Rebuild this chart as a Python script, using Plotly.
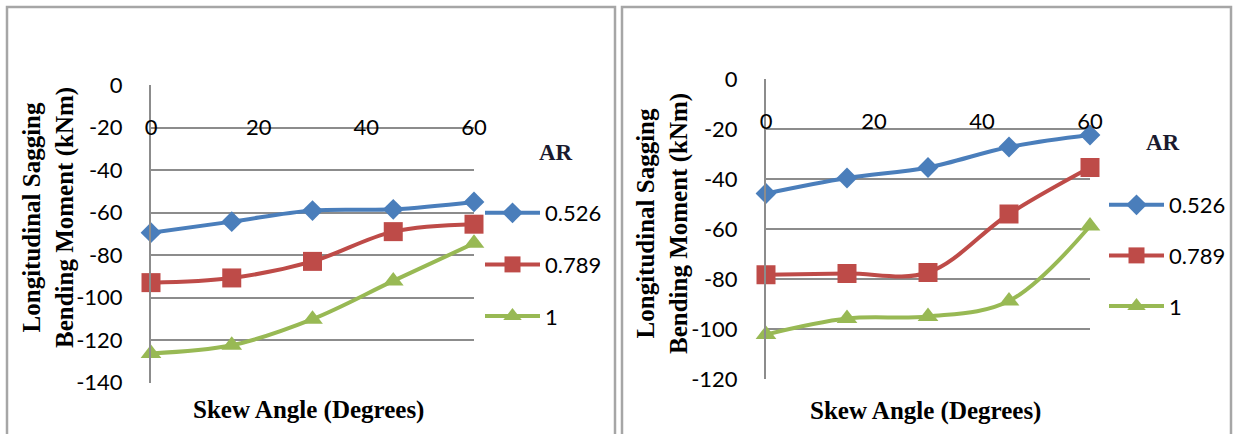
import plotly.graph_objects as go

skew = [0, 15, 30, 45, 60]
ar_labels = ["0.526", "0.789", "1"]

left_526 = [-69.5, -64.3, -59.1, -58.5, -55.0]
left_789 = [-93.0, -90.8, -83.0, -69.0, -65.5]
left_1 = [-126.3, -122.5, -110.2, -92.2, -74.5]

right_526 = [-45.8, -39.6, -35.4, -27.2, -22.4]
right_789 = [-78.3, -77.8, -77.4, -54.0, -35.4]
right_1 = [-102.2, -95.8, -95.0, -88.8, -58.8]

x_ticks = [0, 20, 40, 60]
left_yticks = [0, -20, -40, -60, -80, -100, -120, -140]
right_yticks = [0, -20, -40, -60, -80, -100, -120]

colors = ["#4A7EBB", "#BE4B48", "#98B954"]
symbols = ["diamond", "square", "triangle-up"]
msizes = [16, 19, 18]

W, H = 1235, 434
SANS = "Lato"
SERIF = "Liberation Serif"

fig = go.Figure()

def add_series(series, xa, ya, legend):
    for i, (vals, lab) in enumerate(zip(series, ar_labels)):
        fig.add_trace(go.Scatter(
            x=skew, y=vals, name=lab, mode="lines+markers",
            xaxis=xa, yaxis=ya, legend=legend, legendgroup=legend + lab,
            line=dict(color=colors[i], width=4, shape="spline", smoothing=1.0),
            marker=dict(symbol=symbols[i], size=msizes[i], color=colors[i]),
            cliponaxis=False,
        ))

add_series([left_526, left_789, left_1], "x", "y", "legend")
add_series([right_526, right_789, right_1], "x2", "y2", "legend2")

def px_x(p):
    return p / W

def px_y(p):
    return 1 - p / H

grid = "#8C8C8C"
ldom_x = [px_x(151), px_x(474)]
ldom_y = [px_y(382.5), px_y(85)]
rdom_x = [px_x(766), px_x(1090)]
rdom_y = [px_y(379), px_y(79)]

xcommon = dict(range=[0, 60], tickvals=x_ticks, showgrid=False, zeroline=False,
               showline=False, ticks="outside", ticklen=23, tickcolor="rgba(0,0,0,0)",
               tickfont=dict(family=SANS, size=22, color="black"), anchor="free", side="bottom",
               automargin=False)
ycommon = dict(showgrid=True, gridcolor=grid, gridwidth=1.6, zeroline=False,
               showline=True, linecolor=grid, linewidth=2, ticks="outside", ticklen=22,
               tickcolor="rgba(0,0,0,0)", tickfont=dict(family=SANS, size=22, color="black"),
               automargin=False)

fig.update_layout(
    width=W, height=H, autosize=False,
    margin=dict(l=0, r=0, t=0, b=0, pad=0, autoexpand=False),
    paper_bgcolor="white", plot_bgcolor="white",
    xaxis=dict(domain=ldom_x, position=ldom_y[1], **xcommon),
    yaxis=dict(domain=ldom_y, range=[-140, 0], tickvals=left_yticks,
               ticktext=[str(v) for v in left_yticks], anchor="x", **ycommon),
    xaxis2=dict(domain=rdom_x, position=rdom_y[1], **xcommon),
    yaxis2=dict(domain=rdom_y, range=[-120, 0], tickvals=right_yticks,
                ticktext=[str(v) for v in right_yticks], anchor="x2", **ycommon),
    legend=dict(x=px_x(480), y=px_y(192), xanchor="left", yanchor="top",
                font=dict(family=SANS, size=22, color="black"), bgcolor="rgba(0,0,0,0)",
                tracegroupgap=20, itemwidth=55),
    legend2=dict(x=px_x(1104), y=px_y(184), xanchor="left", yanchor="top",
                 font=dict(family=SANS, size=22, color="black"), bgcolor="rgba(0,0,0,0)",
                 tracegroupgap=19, itemwidth=55),
    showlegend=True,
)

ytitle = "Longitudinal Sagging<br>Bending Moment (kNm)"
xtitle = "Skew Angle (Degrees)"
tfont = dict(family=SERIF, size=25, color="black")
fig.add_annotation(text="<b>" + xtitle + "</b>", x=px_x(308), y=px_y(410), xref="paper", yref="paper",
                   xanchor="center", yanchor="middle", showarrow=False, font=tfont)
fig.add_annotation(text="<b>" + xtitle + "</b>", x=px_x(925), y=px_y(411), xref="paper", yref="paper",
                   xanchor="center", yanchor="middle", showarrow=False, font=tfont)
fig.add_annotation(text="<b>" + ytitle + "</b>", x=px_x(48), y=px_y(218), xref="paper", yref="paper",
                   xanchor="center", yanchor="middle", showarrow=False, textangle=-90, font=tfont)
fig.add_annotation(text="<b>" + ytitle + "</b>", x=px_x(662), y=px_y(224), xref="paper", yref="paper",
                   xanchor="center", yanchor="middle", showarrow=False, textangle=-90, font=tfont)
arfont = dict(family=SERIF, size=23, color="#1a1a2e")
fig.add_annotation(text="<b>AR</b>", x=px_x(556), y=px_y(152), xref="paper", yref="paper",
                   xanchor="center", yanchor="middle", showarrow=False, font=arfont)
fig.add_annotation(text="<b>AR</b>", x=px_x(1163), y=px_y(143), xref="paper", yref="paper",
                   xanchor="center", yanchor="middle", showarrow=False, font=arfont)

border = dict(color="#A6A6A6", width=2.5)
fig.add_shape(type="rect", xref="paper", yref="paper", x0=px_x(7), x1=px_x(615), y0=-0.05, y1=px_y(7), line=border)
fig.add_shape(type="rect", xref="paper", yref="paper", x0=px_x(622), x1=px_x(1231), y0=-0.05, y1=px_y(7), line=border)

fig.write_html("out.html")
